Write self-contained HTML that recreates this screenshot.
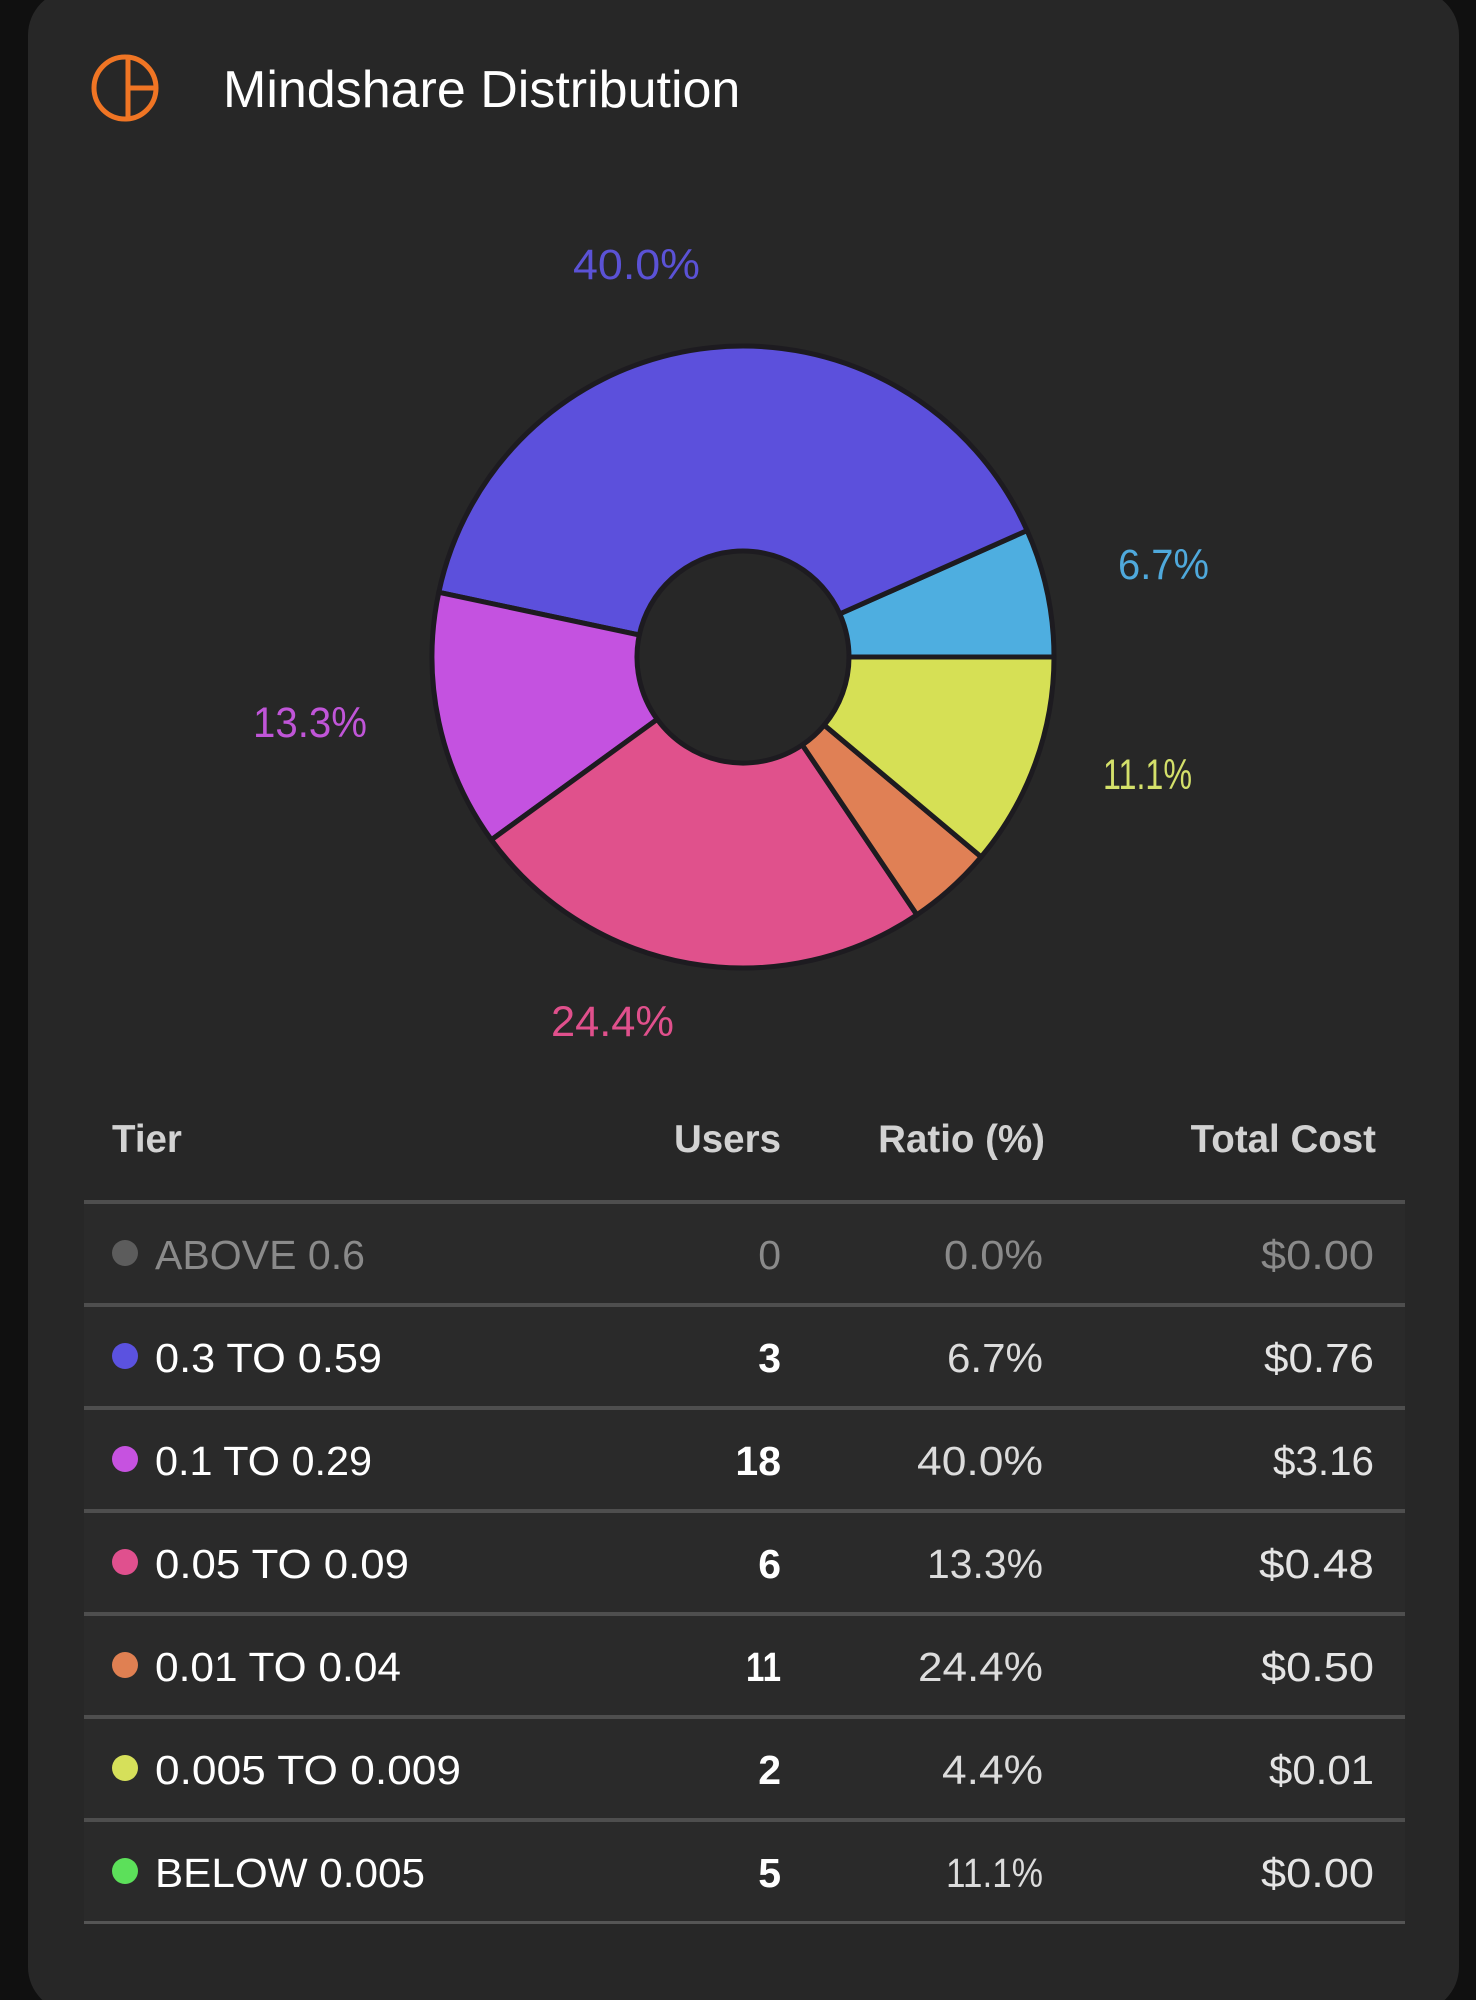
<!DOCTYPE html>
<html>
<head>
<meta charset="utf-8">
<style>
html,body{margin:0;padding:0;background:#101010;}
body{width:1476px;height:2000px;overflow:hidden;position:relative;font-family:"Liberation Sans",sans-serif;}
svg{position:absolute;left:0;top:0;}
</style>
</head>
<body>
<svg width="1476" height="2000" viewBox="0 0 1476 2000" xmlns="http://www.w3.org/2000/svg" font-family="Liberation Sans, sans-serif">
  <rect x="0" y="0" width="1476" height="2000" fill="#101010"/>
  <rect x="28" y="-10" width="1431" height="2022" rx="45" ry="45" fill="#272727"/>

  <!-- title icon -->
  <circle cx="125" cy="88" r="31" fill="none" stroke="#f07524" stroke-width="5"/>
  <line x1="128" y1="57" x2="128" y2="119" stroke="#f07524" stroke-width="5"/>
  <line x1="128" y1="88" x2="156" y2="88" stroke="#f07524" stroke-width="5"/>
  <text x="223" y="107" font-size="52" fill="#ffffff">Mindshare Distribution</text>

  <!-- donut -->
  <g stroke="#1d1b20" stroke-width="5" stroke-linejoin="round">
    <path d="M1054,657 A311,311 0 0 0 1027.1,530.5 L839.8,613.9 A106,106 0 0 1 849,657 Z" fill="#4eaee0"/>
    <path d="M1027.1,530.5 A311,311 0 0 0 438.8,592.3 L639.3,635.0 A106,106 0 0 1 839.8,613.9 Z" fill="#5c50dc"/>
    <path d="M438.8,592.3 A311,311 0 0 0 491.4,839.8 L657.2,719.3 A106,106 0 0 1 639.3,635.0 Z" fill="#c452e0"/>
    <path d="M491.4,839.8 A311,311 0 0 0 916.9,914.8 L802.3,744.9 A106,106 0 0 1 657.2,719.3 Z" fill="#e0518c"/>
    <path d="M916.9,914.8 A311,311 0 0 0 981.2,856.9 L824.2,725.1 A106,106 0 0 1 802.3,744.9 Z" fill="#e08055"/>
    <path d="M981.2,856.9 A311,311 0 0 0 1054,657 L849,657 A106,106 0 0 1 824.2,725.1 Z" fill="#d6e055"/>
  </g>

  <!-- pie labels -->
  <g font-size="43">
    <text x="573" y="279" fill="#5b52d6" textLength="127" lengthAdjust="spacingAndGlyphs">40.0%</text>
    <text x="1118" y="579" fill="#4fa9dc" textLength="91" lengthAdjust="spacingAndGlyphs">6.7%</text>
    <text x="253" y="737" fill="#c055d8" textLength="114" lengthAdjust="spacingAndGlyphs">13.3%</text>
    <text x="1103" y="789" fill="#d4e06a" textLength="89" lengthAdjust="spacingAndGlyphs">11.1%</text>
    <text x="551" y="1036" fill="#e0508c" textLength="123" lengthAdjust="spacingAndGlyphs">24.4%</text>
  </g>

  <!-- table header -->
  <g font-size="38.5" font-weight="bold" fill="#d2d2d2">
    <text x="112" y="1152">Tier</text>
    <text x="781" y="1152" text-anchor="end">Users</text>
    <text x="1045" y="1152" text-anchor="end">Ratio (%)</text>
    <text x="1376" y="1152" text-anchor="end">Total Cost</text>
  </g>

  <!-- row backgrounds -->
  <g fill="#2a2a2a">
    <rect x="84" y="1204" width="1321" height="99"/>
    <rect x="84" y="1307" width="1321" height="99"/>
    <rect x="84" y="1410" width="1321" height="99"/>
    <rect x="84" y="1513" width="1321" height="99"/>
    <rect x="84" y="1616" width="1321" height="99"/>
    <rect x="84" y="1719" width="1321" height="99"/>
    <rect x="84" y="1822" width="1321" height="99"/>
  </g>

  <!-- lines -->
  <g fill="#4e4e4e">
    <rect x="84" y="1200" width="1321" height="4"/>
    <rect x="84" y="1303" width="1321" height="4"/>
    <rect x="84" y="1406" width="1321" height="4"/>
    <rect x="84" y="1509" width="1321" height="4"/>
    <rect x="84" y="1612" width="1321" height="4"/>
    <rect x="84" y="1715" width="1321" height="4"/>
    <rect x="84" y="1818" width="1321" height="4"/>
    <rect x="84" y="1921" width="1321" height="3" fill="#555"/>
  </g>

  <!-- rows -->
  <g font-size="41" lengthAdjust="spacingAndGlyphs">
    <!-- row 1 -->
    <circle cx="125" cy="1253" r="13" fill="#5c5c5c"/>
    <text x="155" y="1269" fill="#8a8a8a" textLength="210" lengthAdjust="spacingAndGlyphs">ABOVE 0.6</text>
    <text x="781" y="1269" fill="#8a8a8a" text-anchor="end">0</text>
    <text x="1043" y="1269" fill="#8a8a8a" text-anchor="end" textLength="99" lengthAdjust="spacingAndGlyphs">0.0%</text>
    <text x="1374" y="1269" fill="#8a8a8a" text-anchor="end" textLength="113" lengthAdjust="spacingAndGlyphs">$0.00</text>

    <!-- row 2 -->
    <circle cx="125" cy="1356" r="13" fill="#5b52e0"/>
    <text x="155" y="1372" fill="#ffffff" textLength="227" lengthAdjust="spacingAndGlyphs">0.3 TO 0.59</text>
    <text x="781" y="1372" fill="#ffffff" font-weight="bold" text-anchor="end">3</text>
    <text x="1043" y="1372" fill="#dcdcdc" text-anchor="end" textLength="96" lengthAdjust="spacingAndGlyphs">6.7%</text>
    <text x="1374" y="1372" fill="#e4e4e4" text-anchor="end" textLength="110" lengthAdjust="spacingAndGlyphs">$0.76</text>

    <!-- row 3 -->
    <circle cx="125" cy="1459" r="13" fill="#c652e0"/>
    <text x="155" y="1475" fill="#ffffff" textLength="217" lengthAdjust="spacingAndGlyphs">0.1 TO 0.29</text>
    <text x="781" y="1475" fill="#ffffff" font-weight="bold" text-anchor="end">18</text>
    <text x="1043" y="1475" fill="#dcdcdc" text-anchor="end" textLength="126" lengthAdjust="spacingAndGlyphs">40.0%</text>
    <text x="1374" y="1475" fill="#e4e4e4" text-anchor="end" textLength="101" lengthAdjust="spacingAndGlyphs">$3.16</text>

    <!-- row 4 -->
    <circle cx="125" cy="1562" r="13" fill="#e0508e"/>
    <text x="155" y="1578" fill="#ffffff" textLength="254" lengthAdjust="spacingAndGlyphs">0.05 TO 0.09</text>
    <text x="781" y="1578" fill="#ffffff" font-weight="bold" text-anchor="end">6</text>
    <text x="1043" y="1578" fill="#dcdcdc" text-anchor="end" textLength="116" lengthAdjust="spacingAndGlyphs">13.3%</text>
    <text x="1374" y="1578" fill="#e4e4e4" text-anchor="end" textLength="115" lengthAdjust="spacingAndGlyphs">$0.48</text>

    <!-- row 5 -->
    <circle cx="125" cy="1665" r="13" fill="#e08052"/>
    <text x="155" y="1681" fill="#ffffff" textLength="246" lengthAdjust="spacingAndGlyphs">0.01 TO 0.04</text>
    <text x="781" y="1681" fill="#ffffff" font-weight="bold" text-anchor="end" textLength="35" lengthAdjust="spacingAndGlyphs">11</text>
    <text x="1043" y="1681" fill="#dcdcdc" text-anchor="end" textLength="125" lengthAdjust="spacingAndGlyphs">24.4%</text>
    <text x="1374" y="1681" fill="#e4e4e4" text-anchor="end" textLength="113" lengthAdjust="spacingAndGlyphs">$0.50</text>

    <!-- row 6 -->
    <circle cx="125" cy="1768" r="13" fill="#d6e05a"/>
    <text x="155" y="1784" fill="#ffffff" textLength="306" lengthAdjust="spacingAndGlyphs">0.005 TO 0.009</text>
    <text x="781" y="1784" fill="#ffffff" font-weight="bold" text-anchor="end">2</text>
    <text x="1043" y="1784" fill="#dcdcdc" text-anchor="end" textLength="101" lengthAdjust="spacingAndGlyphs">4.4%</text>
    <text x="1374" y="1784" fill="#e4e4e4" text-anchor="end" textLength="105" lengthAdjust="spacingAndGlyphs">$0.01</text>

    <!-- row 7 -->
    <circle cx="125" cy="1871" r="13" fill="#5ce05a"/>
    <text x="155" y="1887" fill="#ffffff" textLength="270" lengthAdjust="spacingAndGlyphs">BELOW 0.005</text>
    <text x="781" y="1887" fill="#ffffff" font-weight="bold" text-anchor="end">5</text>
    <text x="1043" y="1887" fill="#dcdcdc" text-anchor="end" textLength="97" lengthAdjust="spacingAndGlyphs">11.1%</text>
    <text x="1374" y="1887" fill="#e4e4e4" text-anchor="end" textLength="113" lengthAdjust="spacingAndGlyphs">$0.00</text>
  </g>
</svg>
</body>
</html>
